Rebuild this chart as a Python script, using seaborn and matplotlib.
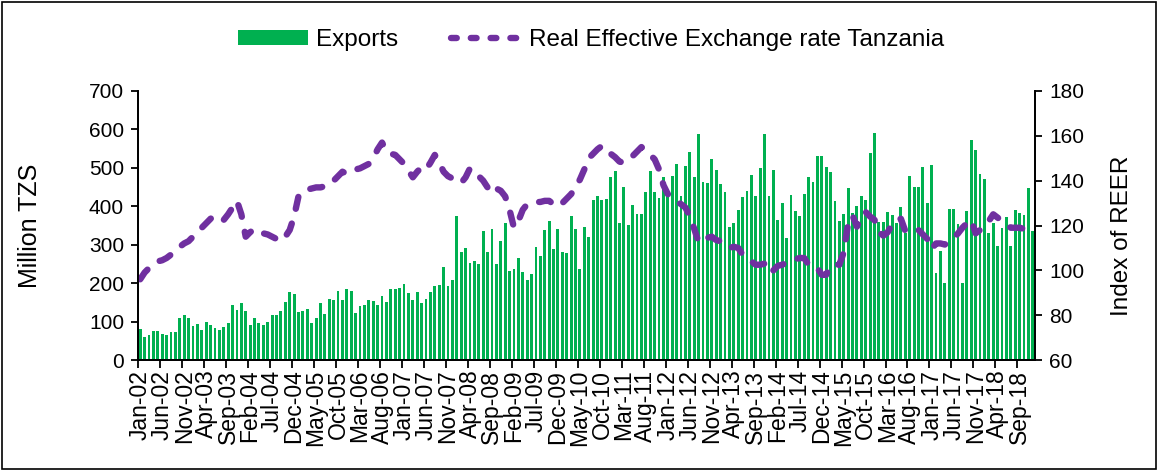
import numpy as np
import pandas as pd
import seaborn as sns
import matplotlib.pyplot as plt
from matplotlib.patches import Patch, Rectangle
from matplotlib.lines import Line2D

# monthly data, Jan-02 .. Dec-18
months = pd.date_range("2002-01-01", periods=204, freq="MS").strftime("%b-%y").tolist()

exports = [
    80, 61, 65, 76, 75, 68, 65, 72, 74, 110,
    116, 109, 88, 94, 77, 99, 91, 83, 78, 86,
    97, 144, 130, 149, 128, 90, 110, 95, 92, 99,
    116, 117, 128, 151, 177, 172, 126, 128, 134, 96,
    110, 149, 121, 159, 155, 179, 157, 184, 179, 123,
    140, 143, 157, 154, 143, 166, 151, 186, 184, 188,
    198, 175, 157, 177, 148, 159, 177, 193, 196, 243,
    193, 207, 375, 281, 292, 252, 257, 251, 335, 280,
    342, 251, 310, 357, 231, 236, 265, 230, 209, 224,
    294, 271, 339, 361, 290, 341, 282, 278, 374, 342,
    236, 347, 320, 417, 426, 416, 420, 475, 491, 356,
    451, 352, 404, 380, 379, 437, 492, 438, 422, 477,
    444, 479, 511, 428, 504, 540, 475, 588, 462, 461,
    524, 494, 458, 437, 345, 356, 390, 423, 440, 482,
    428, 499, 588, 426, 494, 364, 408, 317, 429, 388,
    374, 431, 477, 464, 530, 532, 501, 490, 415, 363,
    380, 447, 382, 401, 428, 416, 538, 590, 358, 360,
    385, 377, 357, 399, 330, 478, 449, 449, 503, 408,
    508, 226, 283, 201, 392, 392, 353, 200, 388, 572,
    546, 483, 471, 331, 356, 297, 344, 373, 297, 390,
    383, 377, 448, 336,
]

reer = [
    96, 99, 101, 103, 104, 104.5, 105.5, 107, 108.5, 110.5,
    112, 113, 115, 117, 119, 121, 123, 124.5, 123.5, 122.5,
    125, 128, 131, 125, 115, 117, 118.5, 117.5, 116.5, 116,
    115, 114, 113, 115, 118, 124, 133, 135.5, 136, 136.5,
    137, 137, 137.5, 138, 140, 142, 144, 143, 144, 145,
    145.5, 146.5, 147.5, 150, 154, 157, 153, 152, 151.5, 149.5,
    147.5, 144.5, 141.5, 144, 146, 145, 148, 151.5, 148, 144,
    142, 141, 140.5, 139, 141.5, 145.5, 144, 142, 140, 137,
    134.5, 136.5, 135.5, 133, 127, 119, 122, 127, 129.5, 130,
    130.5, 130.5, 131, 131, 129.5, 128.5, 130, 132, 134, 137,
    140.5, 145, 150, 152, 154, 155.5, 153, 152, 150.5, 148.5,
    148, 149.5, 151, 153, 155, 153, 151.5, 149.5, 145, 138,
    134, 132.5, 131, 129.5, 128, 124, 118.5, 112.5, 113, 114.5,
    115, 113.5, 113, 112, 110, 110.5, 110, 107, 105.5, 104,
    102.5, 102.5, 103, 99, 100, 102, 102.5, 103.5, 104.5, 105,
    105.5, 105.5, 102.5, 102.5, 101, 98, 98, 102, 102.5, 102.5,
    108, 121, 124.5, 119.5, 124, 126, 124, 122.5, 117, 115.5,
    117, 120.5, 122.5, 123, 117.5, 118, 118.5, 118, 116, 114,
    109.5, 112, 112, 111.5, 113, 114.5, 116.5, 119, 121, 122.5,
    116.5, 118, 119.5, 122, 125, 123.5, 122, 120.5, 119, 119,
    119, 118.5, 117.5, 116.5,
]

green = "#00B050"
purple = "#7030A0"

sns.set_theme(style="white")
plt.rcParams["font.family"] = ["Liberation Sans", "DejaVu Sans"]
plt.rcParams.update({"text.color": "black", "axes.labelcolor": "black",
                     "xtick.color": "black", "ytick.color": "black"})

df = pd.DataFrame({"Month": months, "Exports": exports, "REER": reer})
df["pos"] = np.arange(len(df))

fig = plt.figure(figsize=(11.59, 4.70), dpi=100)
ax = fig.add_axes([138 / 1159, 1 - 360 / 470, 897 / 1159, 269 / 470])

sns.barplot(data=df, x="Month", y="Exports", color=green, saturation=1,
            width=0.65, linewidth=0, ax=ax)

ax2 = ax.twinx()
sns.lineplot(data=df, x="pos", y="REER", color=purple, linewidth=4.6,
             linestyle=(0, (1.9, 2.4)), dash_capstyle="round", ax=ax2)

# axes ranges and ticks
ax.set_xlim(-0.5, len(df) - 0.5)
ax.set_ylim(0, 700)
ax.set_yticks(range(0, 701, 100))
ax2.set_ylim(60, 180)
ax2.set_yticks(range(60, 181, 20))

lab_pos = np.arange(0, len(df), 5)
ax.set_xticks(lab_pos)
ax.set_xticklabels([months[i] for i in lab_pos], rotation=90, fontsize=16.5)
ax.set_xticks(lab_pos - 0.5, minor=True)
ax.tick_params(axis="x", which="major", length=0, pad=7)
ax.tick_params(axis="x", which="minor", length=6, width=1.3,
               direction="out", bottom=True)
ax.tick_params(axis="y", length=5, width=1.3, direction="out",
               left=True, labelsize=15, pad=5)
ax2.tick_params(axis="y", length=5, width=1.3, direction="out",
                right=True, labelsize=15, pad=5)

ax.set_xlabel("")
ax.set_ylabel("Million TZS", fontsize=18)
ax.yaxis.set_label_coords(-0.107, 0.5)
ax2.set_xlabel("")
ax2.set_ylabel("Index of REER", fontsize=17.5)
ax2.yaxis.set_label_coords(1.085, 0.46)

for a in (ax, ax2):
    a.spines["top"].set_visible(False)
    for s in ("left", "right", "bottom"):
        a.spines[s].set_color("black")
        a.spines[s].set_linewidth(1.3)
    a.grid(False)

handles = [
    Patch(facecolor=green, edgecolor="none"),
    Line2D([], [], color=purple, linewidth=4.6, linestyle=(0, (0.9, 2.2)),
           dash_capstyle="round"),
]
fig.legend(handles, ["Exports", "Real Effective Exchange rate Tanzania"],
           loc="center", bbox_to_anchor=(0.51, 0.915), ncol=2, frameon=False,
           fontsize=17.5, handlelength=2.9, handleheight=0.55,
           columnspacing=2.2, handletextpad=0.3)

# outer chart frame
fig.patches.append(Rectangle((0.002, 0.003), 0.995, 0.993, fill=False,
                             edgecolor="black", linewidth=1.2,
                             transform=fig.transFigure, figure=fig))

fig.savefig("out.png", dpi=100)
